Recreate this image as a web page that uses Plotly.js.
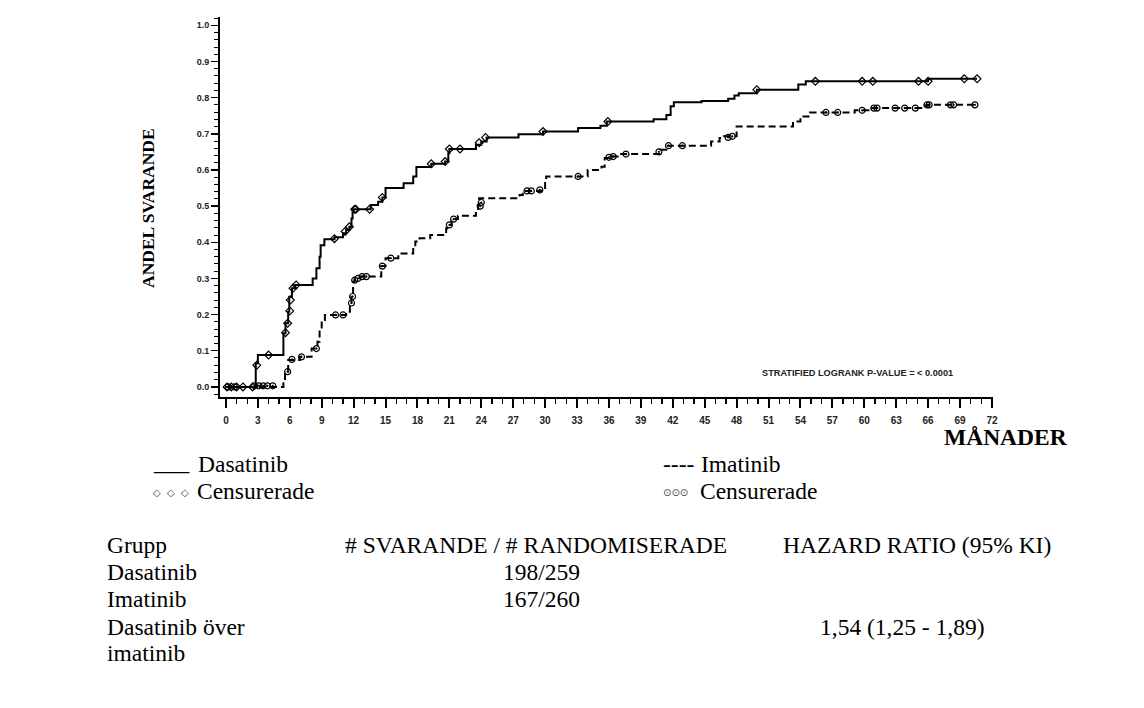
<!DOCTYPE html>
<html>
<head>
<meta charset="utf-8">
<script src="https://cdn.plot.ly/plotly-3.0.1.min.js"></script>
<style>
  html, body { margin: 0; padding: 0; background: #fff; }
  #graph { width: 1144px; height: 708px; }
</style>
</head>
<body>
<div id="graph"></div>
<script>
// Dasatinib step curve (months, proportion responding)
const dasaTime = [0, 2.8, 3.0, 5.4, 5.6, 5.85, 5.95, 6.2, 6.5, 8.15, 8.5, 8.8, 8.9, 9.25, 10.2, 11.0, 11.3, 11.6, 11.8, 11.9, 12.0,
    13.6, 14.3, 14.7, 15.0, 16.7, 17.6, 17.9, 19.3, 20.6, 20.9, 21.0, 23.5, 24.0, 24.5, 27.5, 29.8, 33.1, 35.2, 35.8,
    40.2, 41.4, 41.8, 42.1, 44.7, 47.2, 47.8, 48.2, 49.9, 53.8, 54.5, 66.0, 70.6];
const dasaValue = [0, 0.065, 0.088, 0.148, 0.176, 0.208, 0.249, 0.273, 0.282, 0.300, 0.328, 0.360, 0.392, 0.408, 0.414, 0.425, 0.434, 0.443, 0.466, 0.485, 0.491,
    0.503, 0.512, 0.524, 0.550, 0.563, 0.582, 0.608, 0.617, 0.623, 0.646, 0.658, 0.670, 0.679, 0.690, 0.699, 0.706, 0.716, 0.722, 0.734,
    0.740, 0.752, 0.776, 0.787, 0.791, 0.797, 0.806, 0.812, 0.822, 0.836, 0.845, 0.852, 0.852];

// Dasatinib censored observations
const dasaCensTime = [0.1, 0.5, 1.0, 1.6, 2.5, 2.9, 4.0, 5.6, 5.8, 6.0, 6.05, 6.3, 6.6, 10.2, 11.2, 11.6, 12.1, 12.2, 13.5, 14.7,
    19.3, 20.6, 21.0, 22.0, 23.8, 24.4, 29.8, 35.9, 49.9, 55.4, 59.8, 60.8, 65.1, 66.0, 69.4, 70.6];
const dasaCensValue = [0, 0, 0, 0, 0, 0.06, 0.088, 0.15, 0.176, 0.21, 0.24, 0.273, 0.282, 0.41, 0.43, 0.443, 0.491, 0.491, 0.491, 0.524,
    0.617, 0.623, 0.658, 0.658, 0.675, 0.69, 0.706, 0.734, 0.822, 0.845, 0.845, 0.845, 0.845, 0.845, 0.852, 0.852];

// Imatinib step curve
const imaTime = [0, 5.4, 5.55, 5.85, 6.95, 8.05, 8.6, 8.8, 9.0, 9.3, 11.3, 11.65, 11.8, 11.95, 12.1, 12.6, 14.6, 15.0, 16.2, 17.6,
    17.8, 18.2, 19.2, 20.7, 20.9, 21.2, 21.8, 23.5, 23.7, 23.8, 27.6, 27.9, 29.7, 30.0, 30.1, 34.0, 35.3, 35.6, 36.0, 37.0,
    40.8, 41.4, 45.6, 46.4, 46.8, 48.0, 53.3, 54.0, 54.9, 59.1, 60.4, 65.5, 66.0, 70.6];
const imaValue = [0, 0.01, 0.042, 0.074, 0.083, 0.106, 0.125, 0.157, 0.185, 0.199, 0.208, 0.226, 0.249, 0.291, 0.300, 0.305, 0.334, 0.356, 0.369, 0.388,
    0.402, 0.411, 0.420, 0.439, 0.448, 0.464, 0.473, 0.489, 0.503, 0.522, 0.531, 0.542, 0.550, 0.568, 0.582, 0.600, 0.609, 0.633, 0.637, 0.644,
    0.656, 0.667, 0.679, 0.688, 0.693, 0.720, 0.734, 0.748, 0.759, 0.765, 0.771, 0.778, 0.780, 0.780];

// Imatinib censored observations
const imaCensTime = [0.2, 0.8, 2.7, 3.1, 3.5, 3.9, 4.4, 5.8, 6.2, 7.1, 8.5, 10.3, 11.0, 11.8, 11.9, 12.1, 12.4, 12.8, 13.2, 14.7, 15.5,
    21.0, 21.4, 23.9, 24.0, 28.3, 28.7, 29.5, 33.1, 36.0, 36.4, 37.6, 40.7, 41.6, 42.9, 47.2, 47.6,
    56.4, 57.5, 59.8, 60.9, 61.2, 62.9, 63.8, 64.8, 65.9, 66.1, 68.1, 68.4, 70.4];
const imaCensValue = [0, 0, 0.003, 0.003, 0.003, 0.003, 0.003, 0.042, 0.076, 0.083, 0.106, 0.199, 0.199, 0.232, 0.25, 0.295, 0.300, 0.305, 0.305, 0.334, 0.356,
    0.448, 0.464, 0.50, 0.51, 0.542, 0.542, 0.545, 0.582, 0.635, 0.637, 0.644, 0.650, 0.667, 0.667, 0.690, 0.693,
    0.759, 0.759, 0.765, 0.771, 0.771, 0.771, 0.771, 0.771, 0.780, 0.780, 0.780, 0.780, 0.780];

const xTickVals = [0, 3, 6, 9, 12, 15, 18, 21, 24, 27, 30, 33, 36, 39, 42, 45, 48, 51, 54, 57, 60, 63, 66, 69, 72];
const yTickVals = [0, 0.1, 0.2, 0.3, 0.4, 0.5, 0.6, 0.7, 0.8, 0.9, 1.0];

// table text
const tableHeader = ['Grupp', '# SVARANDE / # RANDOMISERADE', 'HAZARD RATIO (95% KI)'];
const groupNames = ['Dasatinib', 'Imatinib', 'Dasatinib över', 'imatinib'];
const responders = ['198/259', '167/260'];
const hazardRatio = '1,54 (1,25 - 1,89)';

// plot area in pixels: x 220..993, y 17..397
const L = 220, R = 993, T = 17, B = 397;
const px = x => (x - L) / (R - L);
const py = y => (B - y) / (B - T);

const serif = 'Liberation Serif, Times New Roman, serif';
const sans = 'Liberation Sans, Arial, sans-serif';

function note(text, x, y, size, opts) {
    return Object.assign({
        text: text, xref: 'paper', yref: 'paper', x: px(x), y: py(y),
        xanchor: 'left', yanchor: 'middle', showarrow: false,
        font: { family: serif, size: size, color: '#000' }
    }, opts || {});
}

const traces = [
    {
        x: dasaTime, y: dasaValue, type: 'scatter', mode: 'lines',
        line: { shape: 'hv', color: '#000', width: 2 }, hoverinfo: 'skip'
    },
    {
        x: imaTime, y: imaValue, type: 'scatter', mode: 'lines',
        line: { shape: 'hv', color: '#000', width: 2, dash: '7px,4px' }, hoverinfo: 'skip'
    },
    {
        x: dasaCensTime, y: dasaCensValue, type: 'scatter', mode: 'markers',
        marker: { symbol: 'diamond-open', size: 6, color: '#000', line: { width: 1.2 } }
    },
    {
        x: imaCensTime, y: imaCensValue, type: 'scatter', mode: 'markers',
        marker: { symbol: 'circle-open-dot', size: 6, color: '#000', line: { width: 1.2 } }
    }
];

const annotations = [
    note('<b>ANDEL SVARANDE</b>', 148, 208, 17.5, { xanchor: 'center', textangle: -90 }),
    note('<b>MÅNADER</b>', 942, 437, 23.5),
    note('<b>STRATIFIED LOGRANK P-VALUE = < 0.0001</b>', 857, 373, 9.2,
        { xanchor: 'center', font: { family: sans, size: 9.2, color: '#222' } }),

    note('___', 151, 462, 23.5),
    note('Dasatinib', 196, 464, 23.5),
    note('◇&nbsp;&nbsp;◇&nbsp;&nbsp;◇', 151, 492, 10, { font: { family: 'DejaVu Sans', size: 10, color: '#444' } }),
    note('Censurerade', 195, 491, 23.5),
    note('----', 661, 464, 23.5),
    note('Imatinib', 699, 464, 23.5),
    note('⊙⊙⊙', 661, 492, 10, { font: { family: 'DejaVu Sans', size: 10, color: '#444' } }),
    note('Censurerade', 698, 491, 23.5),

    note(tableHeader[0], 105, 545, 23.5),
    note(tableHeader[1], 343, 545, 23.5),
    note(tableHeader[2], 781, 545, 23.5),
    note(groupNames[0], 105, 572, 23.5),
    note(groupNames[1], 105, 599, 23.5),
    note(groupNames[2], 105, 627, 23.5),
    note(groupNames[3], 105, 653, 23.5),
    note(responders[0], 501, 572, 23.5),
    note(responders[1], 501, 599, 23.5),
    note(hazardRatio, 818, 627, 23.5)
];

const layout = {
    width: 1144, height: 708,
    margin: { l: L, r: 1144 - R, t: T, b: 708 - B, pad: 0 },
    paper_bgcolor: '#fff', plot_bgcolor: '#fff',
    showlegend: false,
    font: { family: sans, size: 10, color: '#222' },
    xaxis: {
        range: [-0.56, 72.1], tickvals: xTickVals, ticktext: xTickVals.map(String),
        showgrid: false, zeroline: false, showline: true, linecolor: '#000', linewidth: 2,
        ticks: 'outside', ticklen: 9, tickwidth: 2, tickcolor: '#000', ticklabelstandoff: 4,
        minor: { dtick: 1, tick0: 0, ticks: 'outside', ticklen: 5, tickwidth: 1.3, tickcolor: '#000', showgrid: false },
        tickfont: { family: sans, size: 10, color: '#222', weight: 'bold' }
    },
    yaxis: {
        range: [-0.028, 1.023], tickvals: yTickVals, ticktext: yTickVals.map(v => v.toFixed(1)),
        showgrid: false, zeroline: false, showline: true, linecolor: '#000', linewidth: 2,
        ticks: 'outside', ticklen: 7, tickwidth: 1.5, tickcolor: '#000',
        minor: { dtick: 0.02, tick0: 0, ticks: 'outside', ticklen: 4, tickwidth: 1, tickcolor: '#000', showgrid: false },
        tickfont: { family: sans, size: 9, color: '#222', weight: 'bold' }
    },
    annotations: annotations
};

Plotly.newPlot('graph', traces, layout, { staticPlot: true });
</script>
</body>
</html>
